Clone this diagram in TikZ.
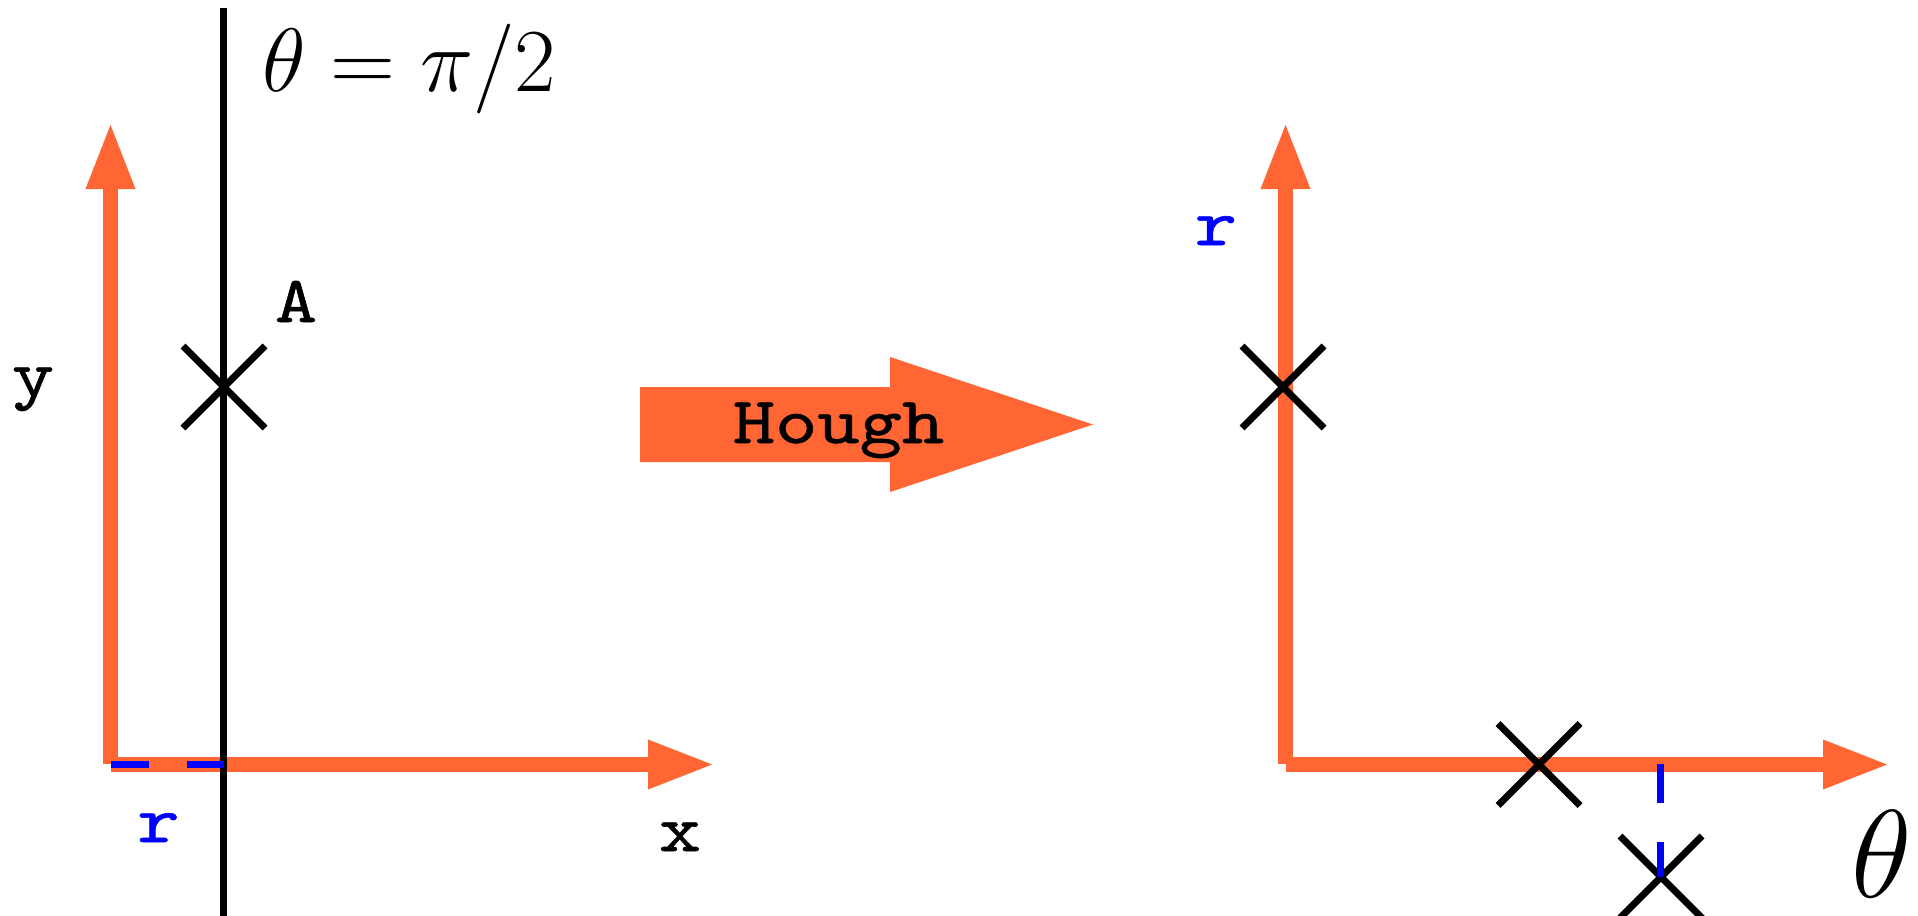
\RequirePackage{fix-cm}
\documentclass[tikz,border=0pt]{standalone}
\usepackage{fontspec}
\newfontfamily\labelmono{lmmono10-regular.otf}[FakeStretch=1.22,FakeBold=0.9]
\usetikzlibrary{arrows.meta,shapes.misc}
\definecolor{axorange}{RGB}{255,102,51}
\definecolor{tickblue}{RGB}{0,0,255}
\begin{document}
\begin{tikzpicture}[x=1pt,y=-1pt,
  axisline/.style={draw=axorange, line width=15pt, line cap=butt, -{Triangle[length=67pt,width=45pt]}},
  crossmark/.style={cross out, draw=black, line width=7pt, minimum size=75pt, inner sep=0pt},
  ttlabel/.style={font=\fontsize{66}{78}\labelmono, inner sep=0pt},
  bluelabel/.style={ttlabel, text=tickblue},
  bluetick/.style={draw=tickblue, line width=7.5pt},
  blackline/.style={draw=black, line width=7pt}]
\useasboundingbox (0,0) rectangle (1918,915);

% ---------- left panel ----------
\coordinate (yo) at (110.5,764);
\coordinate (ytip) at (110.5,122);
\coordinate (xo) at (111,764.5);
\coordinate (xtip) at (715,764.5);
\draw[axisline] (yo) -- (ytip);
\draw[axisline] (xo) -- (xtip);

\coordinate (vtop) at (223.5,8);
\coordinate (vbot) at (223.5,920);
\draw[blackline] (vtop) -- (vbot);

\coordinate (rs) at (111,764.5);
\coordinate (re) at (224,764.5);
\draw[bluetick, dash pattern=on 38pt off 38pt] (rs) -- (re);

\node[crossmark] (A) at (224,387) {};

\node[anchor=base west, inner sep=0pt, font=\fontsize{90}{100}\selectfont] (eq) at (262,92) {$\theta=\pi/2$};
\node[ttlabel, anchor=base] (lA) at (296,322) {A};
\node[ttlabel, anchor=base] (ly) at (33,396) {y};
\node[ttlabel, anchor=base] (lx) at (680,851) {x};
\node[bluelabel, anchor=base] (lr) at (158.5,842) {r};

% ---------- Hough arrow ----------
\fill[axorange] (640,387) -- (890,387) -- (890,357) -- (1093,424.5) -- (890,492) -- (890,462) -- (640,462) -- cycle;
\node[ttlabel, anchor=base] (hough) at (838.5,443) {Hough};

% ---------- right panel ----------
\coordinate (ro) at (1285.5,764);
\coordinate (rtip) at (1285.5,122);
\coordinate (to) at (1285.5,764.5);
\coordinate (ttip) at (1890,764.5);
\draw[axisline] (ro) -- (rtip);
\draw[axisline] (to) -- (ttip);

\node[crossmark] (P1) at (1283,387) {};
\node[crossmark] (P2) at (1539,764.5) {};
\node[crossmark] (P3) at (1661,877) {};

\coordinate (ts) at (1660.5,764);
\coordinate (te) at (1660.5,877);
\draw[bluetick, dash pattern=on 39pt off 39pt] (ts) -- (te);

\node[bluelabel, anchor=base] (rr) at (1216,245) {r};
\node[anchor=base, inner sep=0pt, font=\fontsize{125}{140}\selectfont] (th) at (1882,897) {$\theta$};
\end{tikzpicture}
\end{document}
